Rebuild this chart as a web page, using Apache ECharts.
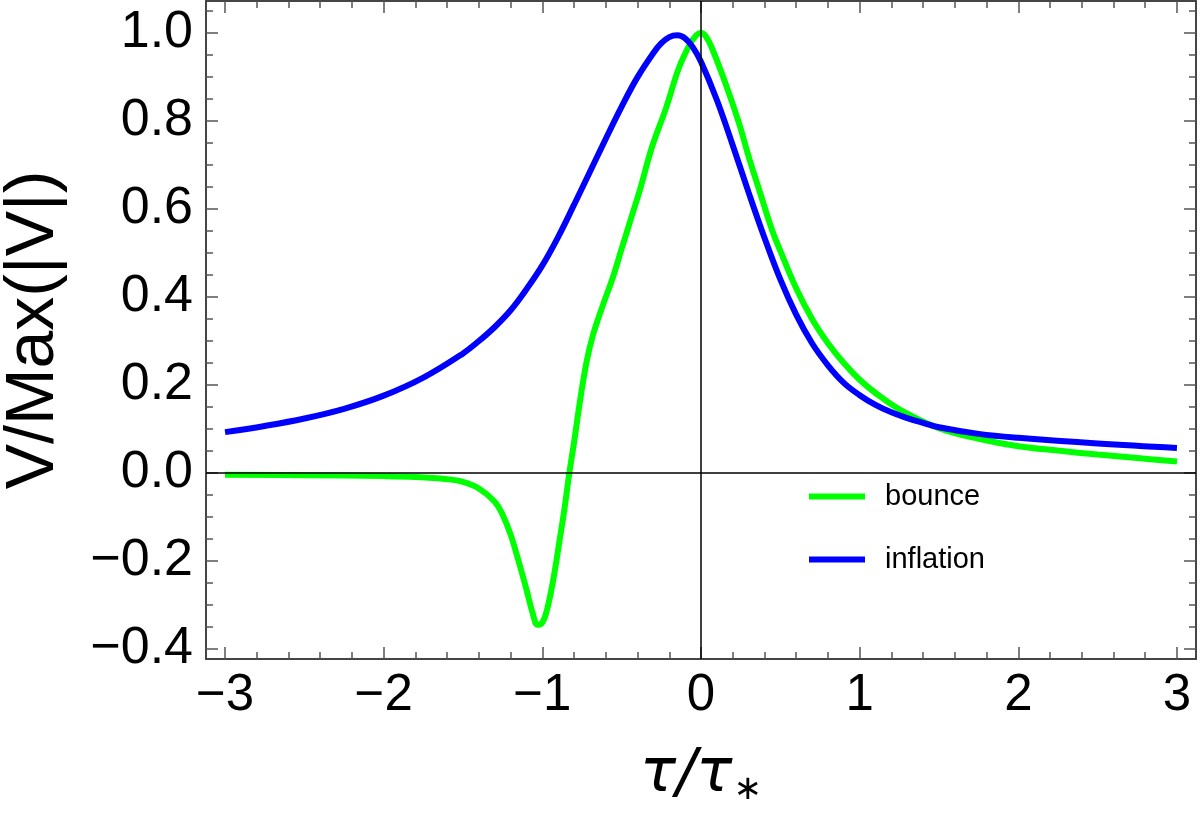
<!DOCTYPE html>
<html>
<head>
<meta charset="utf-8">
<script src="https://cdn.jsdelivr.net/npm/echarts@6/dist/echarts.min.js"></script>
<style>
html,body{margin:0;padding:0;background:#fff;}
#chart{width:1200px;height:823px;}
</style>
</head>
<body>
<div id="chart"></div>
<script>
// ---- data ----
const bounceX = [-3.0,-2.5,-2.0,-1.8,-1.6,-1.5,-1.4,-1.3,-1.25,-1.2,-1.15,-1.1,-1.06,-1.03,-1.0,-0.97,-0.93,-0.89,-0.86,-0.83,-0.80,-0.76,-0.72,-0.68,-0.62,-0.56,-0.50,-0.44,-0.38,-0.31,-0.22,-0.14,-0.07,-0.03,0.0,0.03,0.07,0.16,0.24,0.30,0.37,0.45,0.5,0.6,0.7,0.8,0.9,1.0,1.1,1.25,1.5,1.75,2.0,2.25,2.5,2.75,3.0];
const bounceY = [-0.004,-0.005,-0.007,-0.009,-0.014,-0.02,-0.035,-0.065,-0.095,-0.14,-0.2,-0.265,-0.32,-0.345,-0.34,-0.31,-0.24,-0.15,-0.08,0.0,0.07,0.17,0.255,0.315,0.38,0.44,0.51,0.58,0.65,0.74,0.83,0.92,0.975,0.995,1.0,0.993,0.965,0.88,0.795,0.72,0.64,0.55,0.505,0.42,0.35,0.295,0.25,0.212,0.182,0.145,0.102,0.078,0.061,0.051,0.042,0.034,0.026];
const inflationX = [-3.0,-2.75,-2.5,-2.25,-2.0,-1.75,-1.5,-1.4,-1.3,-1.2,-1.1,-1.0,-0.9,-0.8,-0.7,-0.6,-0.5,-0.4,-0.3,-0.25,-0.2,-0.15,-0.1,-0.05,0.0,0.1,0.2,0.3,0.4,0.5,0.6,0.7,0.8,0.9,1.0,1.1,1.2,1.3,1.4,1.5,1.75,2.0,2.5,3.0];
const inflationY = [0.093,0.107,0.124,0.146,0.176,0.217,0.272,0.3,0.332,0.37,0.418,0.472,0.537,0.61,0.685,0.76,0.833,0.9,0.955,0.977,0.991,0.995,0.988,0.967,0.935,0.848,0.745,0.638,0.535,0.44,0.36,0.295,0.245,0.205,0.177,0.155,0.138,0.125,0.114,0.104,0.089,0.08,0.067,0.057];
const xMajorTicks = [-3,-2,-1,0,1,2,3];
const xMinorTicks = [-2.8,-2.6,-2.4,-2.2,-1.8,-1.6,-1.4,-1.2,-0.8,-0.6,-0.4,-0.2,0.2,0.4,0.6,0.8,1.2,1.4,1.6,1.8,2.2,2.4,2.6,2.8];
const yMajorTicks = [-0.4,-0.2,0.0,0.2,0.4,0.6,0.8,1.0];
const yMinorTicks = [-0.35,-0.3,-0.25,-0.15,-0.1,-0.05,0.05,0.1,0.15,0.25,0.3,0.35,0.45,0.5,0.55,0.65,0.7,0.75,0.85,0.9,0.95,1.05];
const seriesNames = ['bounce','inflation'];
const xRange = [-3.12, 3.12];
const yRange = [-0.4227, 1.073];

const FONT = 'Liberation Sans, Arial, sans-serif';
const frameColor = '#3a3a3a';
const tickColor = '#555';
const fmtMinus = (v, d) => { const s = Math.abs(v).toFixed(d); return (v < -1e-9 ? '\u2212' : '') + s; };

function xAxisDef(pos, ticks, len, labels, extra) {
  return Object.assign({
    type: 'value', position: pos, min: xRange[0], max: xRange[1],
    axisLine: { show: true, onZero: false, lineStyle: { color: frameColor, width: 1.5 } },
    axisTick: { show: true, inside: true, length: len, customValues: ticks, lineStyle: { color: tickColor, width: 1.5 } },
    axisLabel: labels ? { show: true, customValues: xMajorTicks, fontSize: 51, fontFamily: FONT, color: '#000', margin: 11,
      formatter: v => fmtMinus(v, 0) } : { show: false },
    splitLine: { show: false }
  }, extra || {});
}
function yAxisDef(pos, ticks, len, labels, extra) {
  return Object.assign({
    type: 'value', position: pos, min: yRange[0], max: yRange[1],
    axisLine: { show: true, onZero: false, lineStyle: { color: frameColor, width: 1.5 } },
    axisTick: { show: true, inside: true, length: len, customValues: ticks, lineStyle: { color: tickColor, width: 1.5 } },
    axisLabel: labels ? { show: true, customValues: yMajorTicks, fontSize: 52, fontFamily: FONT, color: '#000', margin: 13,
      formatter: v => fmtMinus(v, 1) } : { show: false },
    splitLine: { show: false }
  }, extra || {});
}

const chart = echarts.init(document.getElementById('chart'), null, { renderer: 'canvas' });
const option = {
  backgroundColor: '#fff',
  animation: false,
  grid: { left: 206, right: 4, top: 1, bottom: 164, containLabel: false, outerBoundsMode: 'none' },
  legend: {
    data: seriesNames, orient: 'vertical', left: 809, top: 482, padding: 0,
    icon: 'rect', itemWidth: 56, itemHeight: 6, itemGap: 34,
    textStyle: { fontSize: 29, fontFamily: FONT, color: '#000', padding: [0, 0, 0, 15] }
  },
  xAxis: [
    xAxisDef('bottom', xMajorTicks, 12, true, {
      name: '{i|\u03c4/\u03c4}{s|\u2217}', nameLocation: 'middle', nameGap: 84,
      nameTextStyle: { rich: {
        i: { fontSize: 60, fontStyle: 'italic', fontFamily: 'DejaVu Sans, Liberation Sans, sans-serif', color: '#000' },
        s: { fontSize: 34, fontFamily: 'DejaVu Sans, sans-serif', color: '#000', padding: [30, 0, 0, 1] }
      } }
    }),
    xAxisDef('bottom', xMinorTicks, 7, false),
    xAxisDef('top', xMajorTicks, 12, false),
    xAxisDef('top', xMinorTicks, 7, false)
  ],
  yAxis: [
    yAxisDef('left', yMajorTicks, 12, true, {
      name: 'V/Max(|V|)', nameLocation: 'middle', nameGap: 138, nameRotate: 90,
      nameTextStyle: { fontSize: 68, fontFamily: FONT, color: '#000' }
    }),
    yAxisDef('left', yMinorTicks, 7, false),
    yAxisDef('right', yMajorTicks, 12, false),
    yAxisDef('right', yMinorTicks, 7, false)
  ],
  series: [
    {
      name: seriesNames[0], type: 'line', xAxisIndex: 0, yAxisIndex: 0,
      data: bounceX.map((x, i) => [x, bounceY[i]]),
      showSymbol: false, smooth: 0.4, clip: true,
      lineStyle: { color: '#00ff00', width: 6 }, itemStyle: { color: '#00ff00' }, z: 3
    },
    {
      name: seriesNames[1], type: 'line', xAxisIndex: 0, yAxisIndex: 0,
      data: inflationX.map((x, i) => [x, inflationY[i]]),
      showSymbol: false, smooth: 0.4, clip: true,
      lineStyle: { color: '#0000ff', width: 6 }, itemStyle: { color: '#0000ff' }, z: 4,
      markLine: {
        silent: true, symbol: 'none', label: { show: false }, animation: false,
        lineStyle: { color: '#000', width: 1.5, type: 'solid' },
        data: [{ xAxis: 0 }, { yAxis: 0 }]
      }
    }
  ]
};
chart.setOption(option);
</script>
</body>
</html>
